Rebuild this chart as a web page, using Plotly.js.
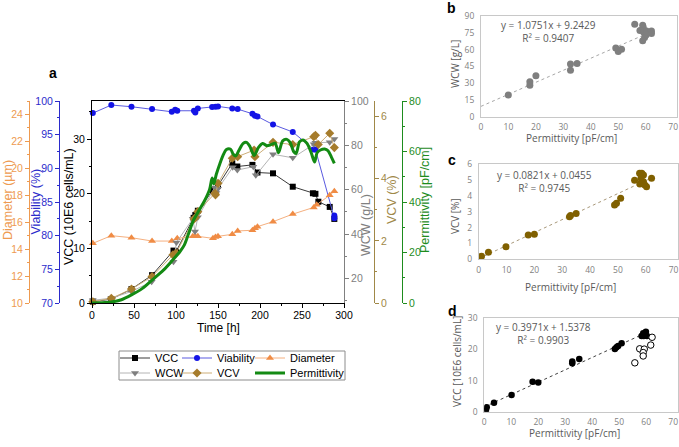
<!DOCTYPE html>
<html><head><meta charset="utf-8">
<script src="https://cdn.plot.ly/plotly-3.0.1.min.js"></script>
<style>html,body{margin:0;padding:0;background:#fff}#chart{width:679px;height:447px}</style>
</head><body><div id="chart"></div>
<script>
// ---------- Panel a data ----------
const vccTime  = [1, 23, 47, 71.5, 97, 100, 121, 123, 126, 144, 147, 150, 167, 173, 191, 197, 215.5, 239, 263, 266, 269.5, 283, 288.5];
const vccValue = [0.25, 0.7, 2.55, 5.1, 9.6, 9.4, 15.6, 16.1, 16.9, 20.7, 20.2, 21.5, 25.6, 25.0, 25.3, 23.9, 23.75, 21.3, 20.1, 20.0, 18.55, 17.6, 15.4];

const viaTime  = [1, 23, 47, 71.5, 95, 99, 101.5, 121.4, 123, 126, 143, 147, 150, 167, 173.4, 191, 194, 197, 215.5, 239, 264, 266, 288.5, 288.5];
const viaValue = [98.2, 99.4, 99.15, 98.8, 98.4, 98.7, 98.55, 98.55, 98.3, 98.9, 99.1, 99.15, 99.2, 98.9, 98.8, 98.1, 97.8, 97.7, 96.5, 95.4, 92.8, 92.8, 83.0, 82.6];

const diaTime  = [1, 23, 47, 71.5, 95, 101.5, 120, 123, 126, 144, 147, 150, 167, 173.4, 191, 194, 197, 215.5, 239, 264, 267.5, 283, 288.5];
const diaValue = [14.43, 15.0, 14.85, 14.6, 14.6, 14.8, 14.95, 14.95, 14.95, 14.8, 14.9, 14.95, 15.1, 15.35, 15.4, 15.55, 15.67, 16.04, 16.6, 17.1, 17.3, 18.0, 18.3];

const wcwTime  = [1, 23, 47, 71, 97, 98.5, 100.5, 120, 122.6, 126, 146, 148, 150, 167.5, 173, 192, 195, 215.5, 239, 264, 266, 283, 288.5];
const wcwValue = [10.2, 11.2, 14.2, 18.6, 27.6, 31.0, 36.3, 47.0, 41.2, 47.6, 61.0, 58.5, 60.5, 70.1, 68.9, 70.4, 66.5, 76.0, 74.4, 80.5, 81.2, 81.4, 82.9];

const vcvTime  = [1, 23, 47, 71.5, 96.4, 100, 121.4, 123, 126, 146.4, 147, 150, 167, 173.4, 193, 194, 215.5, 239, 264, 266, 269.4, 283, 288.5];
const vcvValue = [0.04, 0.15, 0.45, 0.85, 1.55, 1.6, 2.7, 2.75, 2.94, 3.53, 3.48, 3.85, 4.66, 4.71, 4.92, 4.71, 5.17, 5.1, 5.35, 5.4, 5.1, 5.46, 5.0];

const permTime  = [0, 10, 23, 35, 47, 60, 71.5, 85, 96, 105, 110, 115, 121, 128, 134, 140, 143, 145, 148, 152, 156, 160, 165, 168, 171, 175, 180, 184, 188, 193, 198, 203, 208, 213, 218, 222, 227, 232, 236, 240, 243, 247, 251, 256, 261, 265, 268, 272, 277, 281, 285, 288.5];
const permValue = [0, 0.1, 0.4, 1.3, 3.2, 5.8, 9.1, 13, 17, 20.5, 23, 27.5, 32.9, 37, 40.5, 45, 49.5, 47.2, 51, 55, 58.5, 60.8, 60.9, 59, 58.2, 60.5, 63.2, 63.6, 62, 58.4, 61.5, 63.2, 62.3, 62.7, 63.3, 59.5, 64.2, 64.8, 63.5, 60, 59.2, 63.8, 64.6, 63.2, 59.5, 55.8, 59.5, 60.6, 61, 60.3, 57.8, 55.3];

// ---------- Panel b/c/d data ----------
const bPerm = [9.95, 17.8, 17.8, 20, 32.6, 32.6, 35, 49.1, 50, 51.2, 56, 58.9, 59.1, 57.9, 59.2, 60.3, 62.1, 62.1, 60.1, 59.6, 58.9];
const bWcw  = [19.3, 31.2, 28.2, 36.6, 47, 41.6, 47.6, 61.5, 58.3, 60.3, 82.6, 81.7, 79.7, 77, 75.8, 76.5, 76.7, 74.3, 73, 70.8, 67.8];

const cPerm = [0.5, 0.7, 1.0, 3.5, 9.8, 17.8, 20, 32.6, 33, 35, 48.8, 49.5, 51, 56, 57.8, 58.6, 59.2, 58.3, 59.2, 57.9, 59.7, 60.3, 62.1];
const cVcv  = [0.0, 0.13, 0.2, 0.44, 0.8, 1.54, 1.58, 2.69, 2.76, 2.9, 3.43, 3.54, 3.85, 5.0, 5.43, 5.43, 5.33, 5.12, 4.9, 4.75, 4.7, 4.58, 5.12];

const dPermFilled = [0.6, 0.9, 0.6, 3.6, 10.1, 17.9, 20.0, 32.6, 32.6, 35.2, 48.4, 49.0, 49.6, 50.9, 58.3, 58.9, 59.9, 59.1, 60.3];
const dVccFilled  = [0.75, 1.4, 0.3, 2.9, 5.4, 9.6, 9.4, 15.6, 16.1, 16.9, 20.1, 20.7, 21.1, 22.0, 24.3, 25.2, 25.7, 24.3, 24.3];
const dPermOpen = [62.2, 61.7, 57.6, 59.3, 58.9, 58.9, 55.8];
const dVccOpen  = [23.9, 21.4, 20.2, 20.1, 19.0, 17.9, 15.7];

const fitSlope     = [1.0751, 0.0821, 0.3971];
const fitIntercept = [9.2429, 0.0455, 1.5378];
const fitR2        = ['0.9407', '0.9745', '0.9903'];
const fitXRange    = [[0, 62.1], [0, 62.1], [0, 60.3]];

// ---------- helpers ----------
const W = 679, H = 447;
const px = x => x / W;
const py = y => 1 - y / H;
const fa = 'Liberation Sans, Arial, sans-serif';
const fe = 'Open Sans, Lato, sans-serif';

const cOrange = '#EE9A50', cBlue = '#2B2BCB', cGray = '#808080', cBrown = '#A08848', cGreen = '#1E8C1E';

function fitLine(i) {
  const xs = fitXRange[i];
  return xs.map(x => fitSlope[i] * x + fitIntercept[i]);
}

const traces = [
  {x: wcwTime, y: wcwValue, yaxis: 'y4', name: 'WCW', mode: 'lines+markers', legend: 'legend2', legendrank: 1, legendwidth: 17,
   line: {color: '#B4B4B4', width: 1}, marker: {symbol: 'triangle-down', size: 7, color: '#7F7F7F'}, cliponaxis: false},
  {x: permTime, y: permValue, yaxis: 'y6', name: 'Permittivity', mode: 'lines', legend: 'legend2', legendrank: 3, legendwidth: 80,
   line: {color: '#138A13', width: 3, shape: 'spline', smoothing: 0.8}, cliponaxis: false},
  {x: diaTime, y: diaValue, yaxis: 'y3', name: 'Diameter', mode: 'lines+markers', legend: 'legend', legendrank: 3, legendwidth: 62,
   line: {color: '#F5B080', width: 1}, marker: {symbol: 'triangle-up', size: 7, color: '#F08C45'}, cliponaxis: false},
  {x: vccTime, y: vccValue, yaxis: 'y', name: 'VCC', mode: 'lines+markers', legend: 'legend', legendrank: 1, legendwidth: 17,
   line: {color: '#3A3A3A', width: 1}, marker: {symbol: 'square', size: 6, color: '#000000'}, cliponaxis: false},
  {x: vcvTime, y: vcvValue, yaxis: 'y5', name: 'VCV', mode: 'lines+markers', legend: 'legend2', legendrank: 2, legendwidth: 28,
   line: {color: '#CDAE78', width: 1}, marker: {symbol: 'diamond', size: 7, color: '#A67C2C'}, cliponaxis: false},
  {x: viaTime, y: viaValue, yaxis: 'y2', name: 'Viability', mode: 'lines+markers', legend: 'legend', legendrank: 2, legendwidth: 28,
   line: {color: '#5A5AE0', width: 1}, marker: {symbol: 'circle', size: 6, color: '#1414E6'}, cliponaxis: false},

  // panel b
  {x: fitXRange[0], y: fitLine(0), xaxis: 'x2', yaxis: 'y7', mode: 'lines', showlegend: false,
   line: {color: '#A6A6A6', width: 1, dash: 'dot'}},
  {x: bPerm, y: bWcw, xaxis: 'x2', yaxis: 'y7', mode: 'markers', showlegend: false,
   marker: {size: 7, color: '#7F7F7F'}},
  // panel c
  {x: fitXRange[1], y: fitLine(1), xaxis: 'x3', yaxis: 'y8', mode: 'lines', showlegend: false,
   line: {color: '#A8987A', width: 1, dash: 'dot'}},
  {x: cPerm, y: cVcv, xaxis: 'x3', yaxis: 'y8', mode: 'markers', showlegend: false,
   marker: {size: 7, color: '#806000'}},
  // panel d
  {x: fitXRange[2], y: fitLine(2), xaxis: 'x4', yaxis: 'y9', mode: 'lines', showlegend: false,
   line: {color: '#404040', width: 1, dash: 'dot'}},
  {x: dPermFilled, y: dVccFilled, xaxis: 'x4', yaxis: 'y9', mode: 'markers', showlegend: false,
   marker: {size: 6.5, color: '#000000'}},
  {x: dPermOpen, y: dVccOpen, xaxis: 'x4', yaxis: 'y9', mode: 'markers', showlegend: false,
   marker: {size: 6.5, color: '#FFFFFF', line: {color: '#000000', width: 1}}}
];

const mainDomY = [py(303), py(101)];
function freeY(pos, side, range, dtick, minor, color, extra) {
  return Object.assign({
    overlaying: 'y', anchor: 'free', position: pos, side: side, range: range, dtick: dtick,
    showline: true, linecolor: color, linewidth: 1, ticks: 'outside', ticklen: 4, tickcolor: color,
    minor: {dtick: minor, ticks: 'outside', ticklen: 2, tickcolor: color},
    tickfont: {family: fa, size: 10.5, color: color}, showgrid: false, zeroline: false
  }, extra || {});
}
function smallAx(domain, range, dtick, anchor, standoff) {
  return {domain: domain, range: range, dtick: dtick, anchor: anchor, showline: true, mirror: true,
    linecolor: '#C8C8C8', linewidth: 1, ticks: '', showgrid: false, zeroline: false,
    tickfont: {family: fe, size: 8.5, color: '#7F7F7F'}, ticklabelstandoff: standoff};
}

const ann = [];
function txt(t, x, y, opt) {
  ann.push(Object.assign({text: t, x: px(x), y: py(y), xref: 'paper', yref: 'paper',
    xanchor: 'center', yanchor: 'middle', showarrow: false}, opt));
}
// panel a titles
txt('<b>a</b>', 53, 73, {font: {family: fa, size: 14, color: '#000'}});
txt('Diameter (µm)', 8, 200, {textangle: -90, font: {family: fa, size: 12.5, color: cOrange}});
txt('Viability (%)', 35.5, 202, {textangle: -90, font: {family: fa, size: 12.5, color: cBlue}});
txt('VCC (10E6 cells/mL)', 69, 207, {textangle: -90, font: {family: fa, size: 12.5, color: '#000'}});
txt('WCW (g/L)', 366, 225, {textangle: -90, font: {family: fa, size: 12.5, color: cGray}});
txt('VCV (%)', 392, 199, {textangle: -90, font: {family: fa, size: 12.5, color: cBrown}});
txt('Permittivity [pF/cm]', 425, 200, {textangle: -90, font: {family: fa, size: 12.5, color: cGreen}});
txt('Time [h]', 218, 328, {font: {family: fa, size: 12, color: '#000'}});
// panel b/c/d
txt('<b>b</b>', 451, 8, {font: {family: fa, size: 14, color: '#000'}});
txt('<b>c</b>', 452, 160, {font: {family: fa, size: 14, color: '#000'}});
txt('<b>d</b>', 452, 311, {font: {family: fa, size: 14, color: '#000'}});
const eqY = [31, 182, 333.5];
const eqX = [548, 544, 543];
for (let i = 0; i < 3; i++) {
  const sign = fitIntercept[i] >= 0 ? ' + ' : ' - ';
  txt('y = ' + fitSlope[i].toFixed(4) + 'x' + sign + Math.abs(fitIntercept[i]).toFixed(4) + '<br>R² = ' + fitR2[i],
    eqX[i], eqY[i], {align: 'center', font: {family: fe, size: 10, color: '#595959'}});
}
txt('Permittivity [pF/cm]', 571, 138, {font: {family: fe, size: 10, color: '#595959'}});
txt('Permittivity [pF/cm]', 570, 287, {font: {family: fe, size: 10, color: '#595959'}});
txt('Permittivity [pF/cm]', 574, 433, {font: {family: fe, size: 10, color: '#595959'}});
txt('WCW [g/L]', 455, 64, {textangle: -90, font: {family: fe, size: 10, color: '#595959'}});
txt('VCV [%]', 455, 216, {textangle: -90, font: {family: fe, size: 10, color: '#595959'}});
txt('VCC [10E6 cells/mL]', 457, 362, {textangle: -90, font: {family: fe, size: 10, color: '#595959'}});

const legBase = {orientation: 'h', xanchor: 'left', yanchor: 'middle', x: px(115), traceorder: 'normal',
  font: {family: fa, size: 11, color: '#000'}, bgcolor: 'rgba(0,0,0,0)', borderwidth: 0, itemwidth: 30};

const layout = {
  width: W, height: H, margin: {l: 0, r: 0, t: 0, b: 0}, paper_bgcolor: '#fff', plot_bgcolor: 'rgba(0,0,0,0)',
  showlegend: true, hovermode: false,
  xaxis: {domain: [px(92), px(344)], range: [0, 300], dtick: 50, anchor: 'y', showline: true, mirror: true,
    linecolor: '#000', linewidth: 1, ticks: 'outside', ticklen: 4, tickcolor: '#000', ticklabelstandoff: -2,
    minor: {dtick: 25, ticks: 'outside', ticklen: 2, tickcolor: '#000'},
    tickfont: {family: fa, size: 10.5, color: '#000'}, showgrid: false, zeroline: false},
  yaxis: {domain: mainDomY, range: [0, 37], dtick: 10, anchor: 'x', showline: true, linecolor: '#000', linewidth: 1,
    ticks: 'outside', ticklen: 4, tickcolor: '#000', minor: {dtick: 5, ticks: 'outside', ticklen: 2, tickcolor: '#000'},
    tickfont: {family: fa, size: 10.5, color: '#000'}, showgrid: false, zeroline: false},
  yaxis2: freeY(px(59), 'left', [70, 100], 5, 2.5, cBlue),
  yaxis3: freeY(px(29), 'left', [10, 25], 2, 1, cOrange, {tick0: 10}),
  yaxis4: freeY(0, 'right', [9, 100], 20, 10, cGray, {anchor: 'x', tick0: 0}),
  yaxis5: freeY(px(374), 'right', [0, 6.5], 2, 1, cBrown),
  yaxis6: freeY(px(402), 'right', [0, 80], 20, 10, cGreen),

  xaxis2: smallAx([px(481), px(677)], [0, 71.4], 10, 'y7', 2),
  yaxis7: smallAx([py(116.7), py(16)], [0, 90], 15, 'x2', 4),
  xaxis3: smallAx([px(478.7), px(678)], [0, 71.6], 10, 'y8', 2),
  yaxis8: smallAx([py(259.3), py(164.3)], [0, 6], 1, 'x3', 4),
  xaxis4: smallAx([px(484.3), px(678)], [0, 71.8], 10, 'y9', 2),
  yaxis9: smallAx([py(411.7), py(318.3)], [0, 30], 10, 'x4', 4),

  legend: Object.assign({}, legBase, {y: py(358)}),
  legend2: Object.assign({}, legBase, {y: py(373)}),
  shapes: [{type: 'rect', xref: 'paper', yref: 'paper', x0: px(119), x1: px(345), y0: py(380), y1: py(351),
    line: {color: '#8C8C8C', width: 1}, fillcolor: 'rgba(0,0,0,0)'}],
  annotations: ann
};
delete layout.yaxis4.position;

Plotly.newPlot('chart', traces, layout, {displayModeBar: false, staticPlot: true});
</script></body></html>
